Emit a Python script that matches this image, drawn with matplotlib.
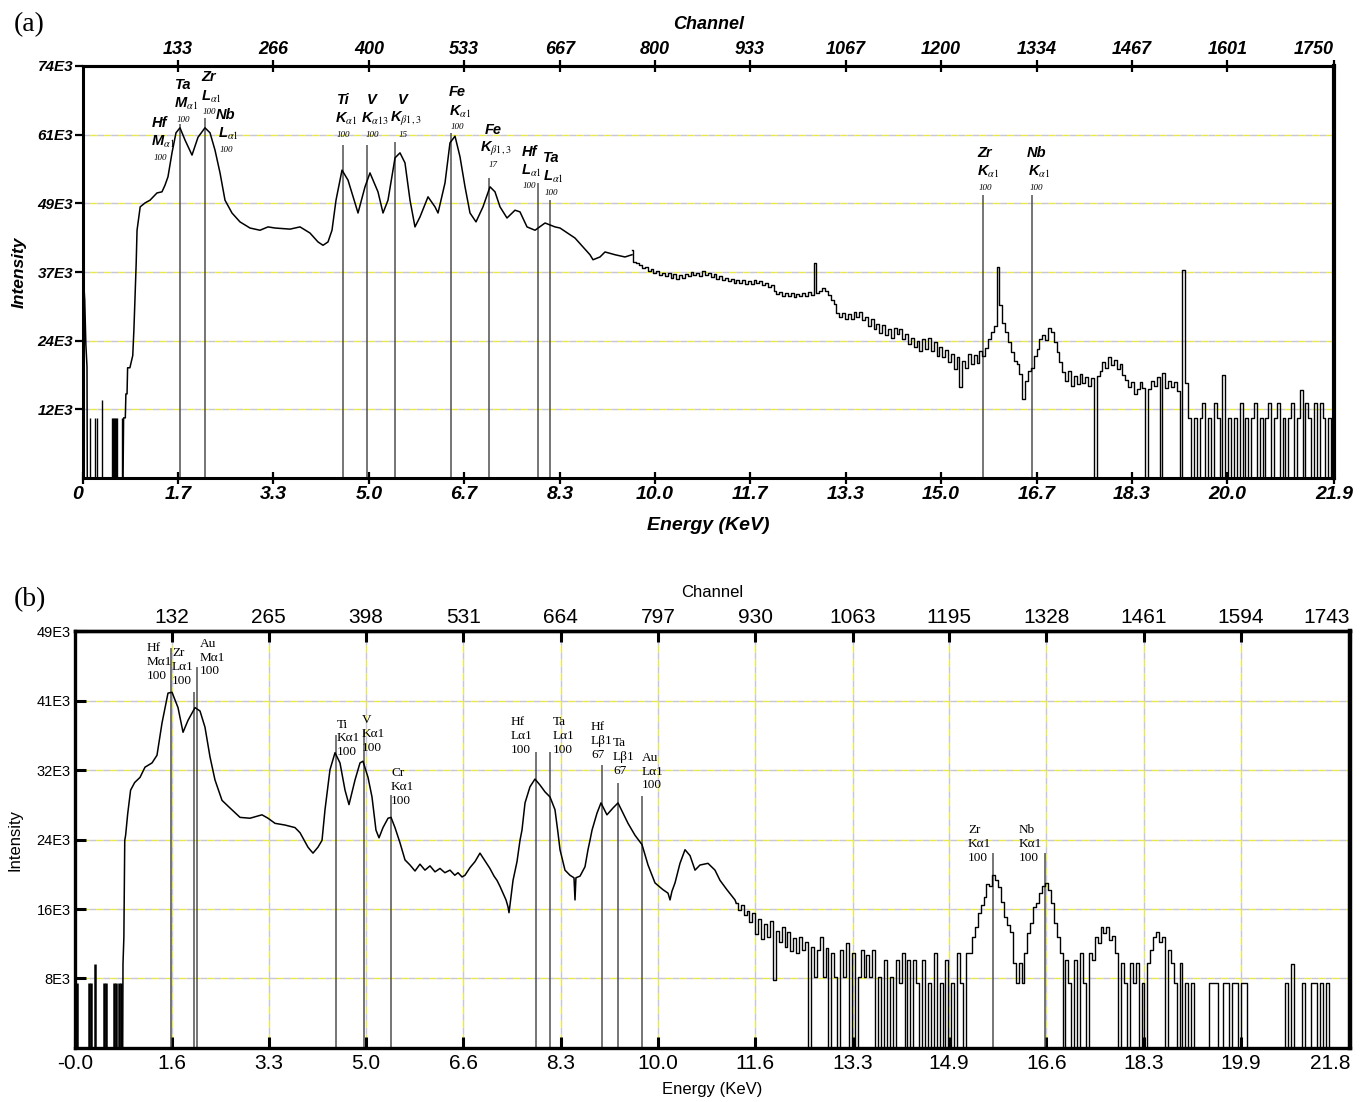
import numpy as np
import matplotlib
matplotlib.use('Agg')
import matplotlib.pyplot as plt

plt.rcParams['mathtext.fontset'] = 'stix'

KEV_PER_CH = 0.0125

# ---------------- panel (a) ----------------
# smooth part of the spectrum (keV, counts in 1E3)
a_curve_E = [0.0, 0.01, 0.03, 0.05, 0.07, 0.075, 0.70, 0.71, 0.74, 0.75, 0.77, 0.78, 0.82, 0.87, 0.89,
             0.91, 0.93, 0.945, 1.0, 1.084, 1.172, 1.294, 1.381, 1.434, 1.486, 1.556, 1.626, 1.696,
             1.784, 1.906, 2.011, 2.133, 2.221, 2.308, 2.396, 2.483, 2.605, 2.745, 2.92, 3.095, 3.235,
             3.357, 3.62, 3.795, 3.969, 4.109, 4.197, 4.284, 4.354, 4.424, 4.529, 4.634, 4.756, 4.809,
             4.931, 5.018, 5.158, 5.246, 5.333, 5.456, 5.543, 5.63, 5.718, 5.805, 5.893, 6.033, 6.155,
             6.208, 6.33, 6.417, 6.505, 6.592, 6.68, 6.767, 6.872, 6.994, 7.117, 7.204, 7.292, 7.414,
             7.554, 7.641, 7.764, 7.904, 8.079, 8.253, 8.341, 8.603, 8.865, 8.918, 9.04, 9.128, 9.303,
             9.477, 9.60]
a_curve_I = [0, 35.5, 32.0, 24.0, 20.0, 0, 0, 10.8, 10.8, 15.1, 15.1, 19.8, 19.8, 22.0, 26.6,
             32.5, 38.6, 44.5, 48.7, 49.4, 49.9, 51.2, 51.4, 52.6, 54.1, 58.4, 62.0, 62.9,
             60.7, 58.0, 61.2, 62.9, 62.0, 58.9, 54.8, 49.9, 47.6, 46.0, 44.9, 44.5, 45.1,
             44.9, 44.7, 45.1, 44.0, 42.4, 41.8, 42.4, 44.5, 49.9, 55.3, 53.5, 49.4, 47.6,
             52.3, 54.8, 51.4, 47.6, 49.9, 57.5, 58.4, 56.6, 49.9, 45.1, 46.9, 50.5, 48.7,
             47.6, 53.0, 60.2, 61.4, 57.7, 52.3, 47.6, 46.0, 48.7, 52.3, 51.4, 48.7, 46.7,
             48.1, 47.8, 45.1, 44.5, 45.8, 45.1, 44.9, 43.1, 40.1, 39.2, 39.7, 40.6, 40.1,
             39.7, 40.1]

# noisy part, one value every 0.05 keV from 9.60 keV
a_grid_start = 9.60
a_grid_I = [
    41.0, 38.8, 38.6, 38.3, 37.8, 37.9, 37.2, 37.5, 36.9, 37.2, 36.5, 36.9, 36.3, 36.8, 36.0, 36.6, 35.8, 36.4, 35.9, 36.6,
    36.2, 37.0, 36.4, 36.9, 36.3, 37.1, 36.5, 36.9, 36.1, 36.6, 35.8, 36.2, 35.5, 36.0, 35.3, 35.8, 35.0, 35.6, 35.1, 35.5,
    34.8, 35.4, 34.9, 35.5, 35.0, 35.3, 34.7, 35.1, 34.3, 34.6, 33.6, 33.0, 33.4, 32.6, 33.2, 32.7, 33.3, 32.5, 33.1, 32.6,
    33.2, 32.7, 33.4, 32.9, 38.6, 33.2, 33.6, 34.2, 33.5, 32.8, 31.9, 31.2, 29.6, 29.0, 29.7, 28.6, 29.4, 28.5, 29.8, 29.0,
    29.9, 28.4, 29.0, 27.3, 28.5, 26.8, 27.6, 26.0, 27.5, 25.6, 26.8, 25.2, 26.9, 25.8, 26.7, 25.0, 25.9, 24.0, 25.2, 23.5,
    24.6, 22.8, 24.9, 23.2, 25.2, 22.9, 24.5, 22.0, 23.6, 21.8, 23.0, 20.9, 22.3, 19.6, 21.8, 16.3, 21.0, 19.8, 22.3, 20.4,
    22.1, 20.6, 22.8, 21.9, 23.4, 24.9, 26.2, 27.3, 37.9, 31.0, 27.9, 26.3, 24.5, 22.6, 21.0, 20.4, 18.6, 14.2, 17.5, 19.2,
    19.8, 22.0, 23.2, 24.9, 25.6, 24.8, 27.0, 26.2, 24.5, 22.6, 20.8, 19.0, 17.4, 19.2, 16.6, 18.4, 16.9, 18.6, 17.0, 18.2,
    16.5, 18.0, 0.0, 18.4, 19.2, 20.8, 19.8, 21.7, 20.3, 21.2, 19.6, 20.4, 18.5, 17.6, 16.4, 17.2, 15.1, 16.0, 17.3, 16.2,
    0.0, 15.9, 17.4, 16.6, 18.2, 0.0, 18.9, 16.2, 17.5, 16.4, 17.3, 15.6, 0.0, 37.4, 17.1, 10.8, 0.0, 10.8, 0.0, 10.8,
    13.5, 0.0, 10.8, 0.0, 13.5, 10.8, 0.0, 18.5, 0.0, 10.8, 0.0, 10.8, 0.0, 13.5, 0.0, 10.8, 0.0, 10.8, 13.5, 0.0,
    10.8, 0.0, 10.8, 13.5, 0.0, 10.8, 13.5, 0.0, 10.8, 0.0, 10.8, 13.5, 0.0, 10.8, 15.8, 0.0, 13.5, 10.8, 0.0, 13.5,
    0.0, 13.5, 10.8, 0.0, 10.8, 0.0]

# isolated counts below 0.7 keV
a_spike_E = [0.12, 0.21, 0.24, 0.33, 0.50, 0.52, 0.54, 0.56, 0.58, 0.60, 0.68]
a_spike_I = [10.8, 10.8, 10.8, 14.0, 10.8, 10.8, 10.8, 10.8, 10.8, 10.8, 10.8]

# identified line markers
a_mark_E = [1.696, 2.133, 4.546, 4.966, 5.456, 6.435, 7.099, 7.956, 8.166, 15.737, 16.594]
a_mark_top = [63.5, 64.7, 59.8, 59.8, 60.3, 62.0, 53.9, 53.0, 49.9, 50.8, 50.8]

a_tag_E = [1.346, 1.748, 2.203, 2.500, 4.546, 5.053, 5.595, 6.540, 7.169, 7.799, 8.183, 15.772, 16.664]
a_tag_I = [63.8, 70.6, 72.0, 65.2, 67.9, 67.9, 67.9, 69.3, 62.5, 58.6, 57.5, 58.4, 58.4]
a_tag_elem = ['Hf', 'Ta', 'Zr', 'Nb', 'Ti', 'V', 'V', 'Fe', 'Fe', 'Hf', 'Ta', 'Zr', 'Nb']
a_tag_shell = ['M', 'M', 'L', 'L', 'K', 'K', 'K', 'K', 'K', 'L', 'L', 'K', 'K']
a_tag_sub = [r'\alpha1', r'\alpha1', r'\alpha1', r'\alpha1', r'\alpha1', r'\alpha13', r'\beta1,3',
             r'\alpha1', r'\beta1,3', r'\alpha1', r'\alpha1', r'\alpha1', r'\alpha1']
a_tag_num = ['100', '100', '100', '100', '100', '100', '15', '100', '17', '100', '100', '100', '100']

a_ch_ticks = [0, 133, 266, 400, 533, 667, 800, 933, 1067, 1200, 1334, 1467, 1601, 1750]
a_kev_labels = ['0', '1.7', '3.3', '5.0', '6.7', '8.3', '10.0', '11.7', '13.3', '15.0', '16.7',
                '18.3', '20.0', '21.9']
a_y_ticks = [12.333, 24.667, 37.0, 49.333, 61.667, 74.0]
a_y_labels = ['12E3', '24E3', '37E3', '49E3', '61E3', '74E3']

# ---------------- panel (b) ----------------
b_curve_E = [0.815, 0.82, 0.835, 0.85, 0.865, 0.90, 0.95, 1.02, 1.111, 1.196, 1.316, 1.401, 1.487,
             1.589, 1.658, 1.76, 1.846, 1.931, 2.051, 2.136, 2.221, 2.307, 2.392, 2.512, 2.649,
             2.82, 2.99, 3.195, 3.298, 3.418, 3.588, 3.759, 3.845, 3.981, 4.016, 4.067, 4.152,
             4.221, 4.272, 4.357, 4.443, 4.528, 4.614, 4.682, 4.785, 4.87, 4.921, 5.007, 5.075,
             5.143, 5.195, 5.263, 5.349, 5.40, 5.468, 5.554, 5.639, 5.725, 5.81, 5.895, 5.98,
             6.066, 6.152, 6.237, 6.32, 6.408, 6.49, 6.545, 6.613, 6.664, 6.75, 6.835, 6.92,
             7.006, 7.09, 7.16, 7.211, 7.262, 7.313, 7.365, 7.399, 7.416, 7.433, 7.485, 7.553,
             7.604, 7.638, 7.69, 7.775, 7.86, 7.946, 8.031, 8.117, 8.202, 8.253, 8.288, 8.373,
             8.458, 8.527, 8.544, 8.56, 8.63, 8.715, 8.766, 8.80, 8.835, 8.92, 8.988, 9.09,
             9.193, 9.279, 9.364, 9.45, 9.569, 9.689, 9.792, 9.911, 10.048, 10.133, 10.168,
             10.20, 10.253, 10.338, 10.424, 10.51, 10.595, 10.68, 10.817, 10.936, 11.022, 11.14,
             11.278, 11.30]
b_curve_I = [0, 9.9, 13.0, 24.4, 25.0, 27.5, 30.3, 31.2, 31.8, 33.0, 33.5, 34.4, 38.2,
             41.7, 41.8, 40.0, 37.1, 38.5, 40.0, 39.6, 37.7, 34.2, 31.5, 29.1, 28.2,
             27.1, 27.0, 27.4, 27.0, 26.4, 26.2, 25.9, 25.3, 23.6, 23.3, 22.9, 23.6,
             24.4, 28.0, 32.7, 34.7, 33.5, 30.3, 28.6, 31.5, 33.5, 33.7, 31.8, 29.5,
             25.6, 24.7, 25.9, 27.0, 27.1, 25.9, 24.1, 22.1, 21.5, 20.8, 21.6, 20.9,
             21.4, 20.7, 21.1, 20.6, 20.9, 20.3, 20.6, 20.1, 20.3, 21.2, 21.9, 22.9,
             22.0, 21.1, 20.2, 19.7, 19.0, 18.2, 17.4, 16.6, 15.9, 16.8, 19.7, 21.9,
             24.4, 25.6, 28.8, 30.7, 31.6, 30.9, 30.1, 29.5, 28.0, 25.3, 23.3, 20.9,
             20.3, 20.0, 17.4, 20.0, 20.2, 21.3, 23.3, 24.4, 25.6, 27.6, 28.8, 27.4,
             28.2, 28.8, 27.6, 26.4, 25.0, 23.9, 21.5, 19.4, 18.6, 18.2, 17.4,
             18.4, 19.4, 21.7, 23.3, 22.6, 20.9, 21.5, 21.7, 20.9, 19.7, 18.6,
             17.4, 17.0]

b_grid_start = 11.30
b_grid_I = [
    17.0, 16.2, 16.8, 15.6, 16.1, 14.8, 15.9, 13.4, 15.2, 12.8, 14.6, 13.0, 14.9, 8.0, 13.8, 12.5, 14.2, 11.9, 13.6, 11.4,
    12.9, 11.2, 13.1, 11.5, 12.4, 0.0, 11.9, 8.3, 11.5, 13.0, 8.3, 11.8, 0.0, 11.2, 8.3, 0.0, 11.5, 8.3, 12.3, 0.0,
    11.2, 0.0, 8.3, 11.5, 8.3, 10.9, 8.3, 11.5, 0.0, 8.3, 0.0, 10.3, 0.0, 8.3, 0.0, 10.3, 7.6, 11.2, 0.0, 10.3,
    0.0, 10.3, 7.6, 0.0, 10.3, 0.0, 7.6, 0.0, 11.2, 0.0, 7.6, 0.0, 10.3, 0.0, 7.6, 0.0, 11.2, 7.6, 0.0, 11.2,
    11.2, 13.0, 14.2, 15.9, 16.8, 17.7, 19.3, 19.0, 20.3, 19.8, 18.9, 17.2, 15.4, 14.4, 13.6, 10.0, 7.6, 10.0, 7.6, 11.2,
    13.5, 14.7, 16.6, 17.0, 18.2, 19.0, 19.4, 18.6, 17.0, 14.7, 13.0, 11.2, 0.0, 10.3, 7.6, 0.0, 10.3, 0.0, 11.2, 7.6,
    0.0, 11.2, 10.3, 13.0, 12.3, 14.2, 13.5, 14.2, 12.7, 13.2, 11.2, 0.0, 10.0, 7.6, 0.0, 10.0, 7.6, 10.0, 0.0, 7.6,
    0.0, 10.0, 11.5, 13.0, 13.6, 12.4, 13.0, 0.0, 11.5, 10.0, 7.6, 0.0, 10.0, 0.0, 7.6, 0.0, 7.6, 0.0, 0.0, 0.0,
    0.0, 0.0, 7.6, 7.6, 7.6, 0.0, 0.0, 7.6, 7.6, 0.0, 7.6, 7.6, 0.0, 7.6, 7.6, 0.0, 0.0, 0.0, 0.0, 0.0,
    0.0, 0.0, 0.0, 0.0, 0.0, 0.0, 0.0, 0.0, 7.6, 0.0, 9.9, 0.0, 0.0, 0.0, 7.6, 0.0, 0.0, 7.6, 7.6, 0.0,
    7.6, 0.0, 7.6, 0.0, 0.0, 0.0, 0.0, 0.0, 0.0, 0.0]

b_spike_E = [0.04, 0.24, 0.27, 0.35, 0.50, 0.53, 0.67, 0.70, 0.75, 0.78]
b_spike_I = [7.6, 7.6, 7.6, 9.9, 7.6, 7.6, 7.6, 7.6, 7.6, 7.6]

b_mark_E = [1.640, 2.033, 2.085, 4.460, 4.938, 5.400, 7.878, 8.117, 9.005, 9.279, 9.689, 15.687, 16.575]
b_mark_top = [47.0, 41.8, 44.8, 36.8, 37.4, 29.7, 34.8, 34.8, 33.3, 31.1, 29.6, 22.9, 22.9]

b_tag_E = [1.230, 1.657, 2.136, 4.477, 4.904, 5.400, 7.451, 8.168, 8.817, 9.193, 9.689, 15.260, 16.131]
b_tag_I = [47.7, 47.1, 48.2, 38.7, 39.2, 33.0, 39.0, 39.0, 38.4, 36.5, 34.8, 26.3, 26.3]
b_tag_text = ['Hf\nMα1\n100', 'Zr\nLα1\n100', 'Au\nMα1\n100', 'Ti\nKα1\n100', 'V\nKα1\n100',
              'Cr\nKα1\n100', 'Hf\nLα1\n100', 'Ta\nLα1\n100', 'Hf\nLβ1\n67', 'Ta\nLβ1\n67',
              'Au\nLα1\n100', 'Zr\nKα1\n100', 'Nb\nKα1\n100']

b_ch_ticks = [0, 132, 265, 398, 531, 664, 797, 930, 1063, 1195, 1328, 1461, 1594, 1743]
b_kev_labels = ['-0.0', '1.6', '3.3', '5.0', '6.6', '8.3', '10.0', '11.6', '13.3', '14.9', '16.6',
                '18.3', '19.9', '21.8']
b_y_ticks = [8.167, 16.333, 24.5, 32.667, 40.833, 49.0]
b_y_labels = ['8E3', '16E3', '24E3', '32E3', '41E3', '49E3']


def two_tone(ax, pos, vertical=False):
    draw = ax.axvline if vertical else ax.axhline
    for p in pos:
        draw(p, color='#c6c6d6', lw=1.0, ls=(0, (5, 5)), zorder=0)
        draw(p, color='#e8e84a', lw=1.0, ls=(5, (5, 5)), zorder=0)


sans = 'Liberation Sans'
bi = dict(family=sans, fontweight='bold', fontstyle='italic')

fig = plt.figure(figsize=(13.64, 11.02), dpi=100)

# ---------- (a) ----------
ax = fig.add_axes([0.06085, 0.56624, 0.91716, 0.37387])
a_grid_E = a_grid_start + 0.05 * np.arange(len(a_grid_I))
ax.plot(a_curve_E, a_curve_I, color='k', lw=1.1, zorder=3)
ax.plot(a_grid_E, a_grid_I, color='k', lw=1.0, drawstyle='steps-mid', zorder=3)
ax.vlines(a_spike_E, 0, a_spike_I, color='k', lw=1.0, zorder=3)
ax.vlines(a_mark_E, 0, a_mark_top, color='#505050', lw=1.1, zorder=2)
ax.set_xlim(0, 1750 * KEV_PER_CH)
ax.set_ylim(0, 74)
two_tone(ax, a_y_ticks[:-1])

pos = np.array(a_ch_ticks) * KEV_PER_CH
ax.set_xticks(pos, a_kev_labels, fontsize=14, **bi)
ax.get_xticklabels()[0].set_horizontalalignment('right')
ax.set_yticks(a_y_ticks, a_y_labels, fontsize=11, **bi)
ax.tick_params(axis='x', direction='inout', length=9, width=1.6, pad=1)
ax.tick_params(axis='y', direction='out', length=6, width=1.6, pad=1)
for s in ax.spines.values():
    s.set_linewidth(2.2)
ax.spines['right'].set_linewidth(3.0)
sec = ax.secondary_xaxis('top')
sec.set_xticks(pos[1:], [str(c) for c in a_ch_ticks[1:]], fontsize=13, **bi)
sec.get_xticklabels()[-1].set_horizontalalignment('right')
sec.tick_params(direction='inout', length=9, width=1.6, pad=1)
sec.spines['top'].set_linewidth(2.2)
sec.set_xlabel('Channel', fontsize=13, labelpad=9, **bi)
ax.set_xlabel('Energy (KeV)', fontsize=14, labelpad=10, **bi)
ax.set_ylabel('Intensity', fontsize=12.5, labelpad=8, **bi)

for x, y, el, sh, sb, n in zip(a_tag_E, a_tag_I, a_tag_elem, a_tag_shell, a_tag_sub, a_tag_num):
    ax.text(x, y, el, ha='center', va='center', fontsize=10.5, **bi)
    ax.annotate(sh + r'$_{\mathit{' + sb + '}}$', (x, y), xytext=(2, -14), textcoords='offset points',
                ha='center', va='center', fontsize=10.5, **bi)
    ax.annotate(n, (x, y), xytext=(0, -25), textcoords='offset points', ha='center', va='center',
                fontsize=6.5, family='Liberation Serif', fontstyle='italic')

fig.text(14 / 1364, 1 - 25 / 1102, '(a)', fontsize=20, family='Liberation Serif', va='center')

# ---------- (b) ----------
ax = fig.add_axes([0.05499, 0.04900, 0.93475, 0.37840])
b_grid_E = b_grid_start + 0.05 * np.arange(len(b_grid_I))
ax.plot(b_curve_E, b_curve_I, color='k', lw=1.1, zorder=3)
ax.plot(b_grid_E, b_grid_I, color='k', lw=1.0, drawstyle='steps-mid', zorder=3)
ax.vlines(b_spike_E, 0, b_spike_I, color='k', lw=1.8, zorder=3)
ax.vlines(b_mark_E, 0, b_mark_top, color='#505050', lw=1.1, zorder=2)
ax.set_xlim(0, 1743 * KEV_PER_CH)
ax.set_ylim(0, 49)

pos = np.array(b_ch_ticks) * KEV_PER_CH
two_tone(ax, b_y_ticks[:-1])
two_tone(ax, pos[1:-1], vertical=True)
ax.set_xticks(pos, b_kev_labels, fontsize=15, family=sans)
ax.get_xticklabels()[-1].set_horizontalalignment('right')
ax.set_yticks(b_y_ticks, b_y_labels, fontsize=10.5, family=sans)
ax.tick_params(direction='in', length=8, width=2.2, pad=4)
ax.tick_params(axis='y', pad=3)
for s in ax.spines.values():
    s.set_linewidth(2.4)
ax.spines['right'].set_linewidth(3.2)
sec = ax.secondary_xaxis('top')
sec.set_xticks(pos[1:], [str(c) for c in b_ch_ticks[1:]], fontsize=15, family=sans)
sec.get_xticklabels()[-1].set_horizontalalignment('right')
sec.tick_params(direction='in', length=8, width=2.2, pad=3)
sec.spines['top'].set_linewidth(2.4)
sec.set_xlabel('Channel', fontsize=12, labelpad=8, family=sans)
ax.set_xlabel('Energy (KeV)', fontsize=12, labelpad=7, family=sans)
ax.set_ylabel('Intensity', fontsize=12, labelpad=10, family=sans)

for x, y, t in zip(b_tag_E, b_tag_I, b_tag_text):
    ax.text(x, y, t, ha='left', va='top', fontsize=9.5, family='Liberation Serif', linespacing=1.2)

fig.text(14 / 1364, 1 - 600 / 1102, '(b)', fontsize=20, family='Liberation Serif', va='center')

fig.savefig('out.png', dpi=100)
